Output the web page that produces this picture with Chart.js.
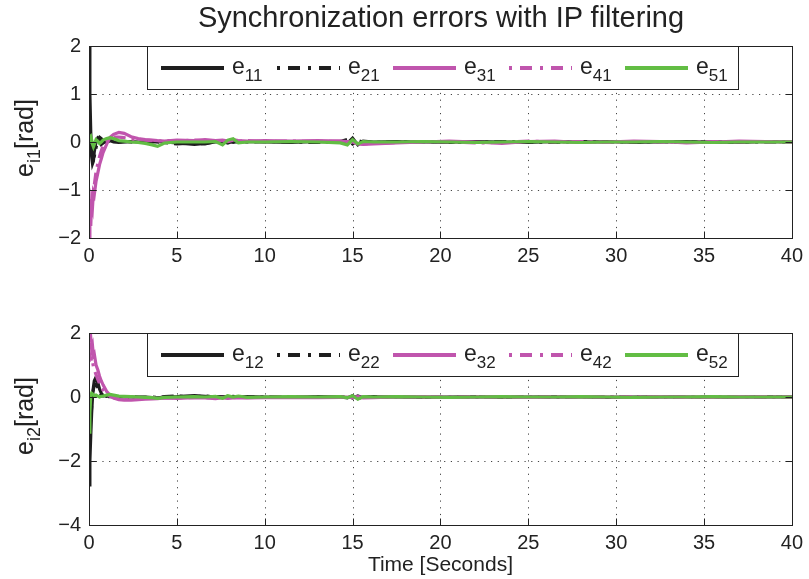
<!DOCTYPE html>
<html>
<head>
<meta charset="utf-8">
<script src="https://cdn.jsdelivr.net/npm/chart.js@4"></script>
<style>
  body { margin: 0; background: #fff; font-family: "Liberation Sans", Arial, sans-serif; color: #222; }
  #wrap { position: relative; width: 809px; height: 579px; overflow: hidden; }
  canvas { position: absolute; left: 0; }
  .title { position: absolute; left: 89px; width: 704px; top: 1px; text-align: center; font-size: 29px; }
  .ylab { position: absolute; width: 200px; height: 30px; line-height: 30px; text-align: center;
          font-size: 25px; transform: rotate(-90deg); }
  .ylab sub { font-size: 18px; vertical-align: -7px; line-height: 0; }
  .legend sub { font-size: 17px; vertical-align: -7px; line-height: 0; }
  .legend { position: absolute; left: 147px; width: 590px; height: 42px; border: 1px solid #222;
            background: #fff; }
  .item { position: absolute; top: -2px; height: 42px; display: flex; align-items: center; font-size: 23px; }
  .item svg { margin-right: 8px; margin-top: 3px; }
</style>
</head>
<body>
<div id="wrap">
  <canvas id="top" width="809" height="300" style="top:0"></canvas>
  <canvas id="bot" width="809" height="289" style="top:290px"></canvas>
  <div class="title">Synchronization errors with IP filtering</div>
  <div class="ylab" style="left:-76px; top:123px">e<sub>i1</sub>[rad]</div>
  <div class="ylab" style="left:-76px; top:401px">e<sub>i2</sub>[rad]</div>
  <div class="legend" id="leg1" style="top:46px"></div>
  <div class="legend" id="leg2" style="top:333px"></div>
</div>
<script>
// time axis (seconds)
const T = [0, 0.05, 0.1, 0.15, 0.2, 0.25, 0.3, 0.4, 0.5, 0.6,
  0.7, 0.8, 1.0, 1.2, 1.4, 1.7, 2.0, 2.4, 2.8, 3.2,
  3.6, 3.9, 4.3, 5, 6, 6.6, 7.2, 7.6, 7.9, 8.2,
  8.5, 9, 10, 11.5, 13, 14.3, 14.7, 15, 15.3, 15.6,
  16.2, 17.5, 19, 20.5, 22, 23.5, 25, 26.5, 28, 29.5,
  31, 32.5, 34, 35.5, 37, 38.5, 40];

// upper plot: e_i1
const e11 = [2.0, 1.0, 0.2, -0.3, -0.45, -0.4, -0.2, 0.0, 0.08, 0.05,
  -0.05, -0.02, 0.05, 0.03, 0.0, -0.01, 0.0, 0.01, 0.0, -0.01,
  0.0, 0.01, 0.0, -0.02, -0.05, -0.03, 0.0, 0.01, -0.02, 0.02,
  0.0, 0.01, 0.0, -0.01, 0.01, 0.0, -0.03, 0.08, -0.06, 0.02,
  0.0, 0.01, 0.0, -0.01, 0.01, 0.0, -0.01, 0.01, 0.0, 0.01,
  -0.01, 0.0, 0.01, 0.0, -0.01, 0.01, 0.0];
const e21 = [0.4, 0.2, 0.05, -0.1, -0.25, -0.33, -0.3, -0.12, 0.05, 0.1,
  0.07, 0.02, -0.02, 0.03, 0.02, 0.0, 0.01, 0.0, -0.01, 0.0,
  0.01, 0.0, -0.01, -0.04, -0.02, -0.04, 0.01, 0.0, 0.02, -0.01,
  0.01, 0.0, 0.01, 0.0, -0.01, 0.01, 0.05, -0.04, 0.03, 0.0,
  -0.01, 0.0, 0.01, 0.0, -0.01, 0.01, 0.0, -0.01, 0.01, 0.0,
  0.0, 0.01, -0.01, 0.0, 0.01, 0.0, 0.0];
const e31 = [-2.0, -1.6, -1.75, -1.25, -1.35, -1.05, -1.1, -0.82, -0.65, -0.47,
  -0.35, -0.22, -0.05, 0.1, 0.16, 0.2, 0.18, 0.11, 0.07, 0.05,
  0.04, 0.03, 0.02, 0.04, 0.03, 0.05, 0.03, 0.04, 0.02, 0.05,
  0.03, 0.02, 0.03, 0.02, 0.03, 0.02, 0.01, 0.0, -0.04, -0.05,
  -0.04, -0.02, 0.0, 0.02, 0.0, -0.03, 0.01, 0.02, -0.01, 0.0,
  0.02, 0.01, -0.02, 0.0, 0.02, 0.01, 0.0];
const e41 = [-1.9, -1.45, -1.5, -1.15, -1.1, -0.95, -0.9, -0.62, -0.45, -0.3,
  -0.18, -0.08, 0.03, 0.07, 0.1, 0.1, 0.09, 0.06, 0.05, 0.04,
  0.03, 0.02, 0.03, 0.02, 0.04, 0.03, 0.02, 0.03, 0.01, 0.04,
  0.02, 0.03, 0.01, 0.02, 0.01, 0.02, 0.0, -0.02, -0.03, -0.04,
  -0.03, -0.01, 0.01, 0.0, -0.02, -0.01, 0.02, 0.0, 0.01, -0.01,
  0.01, 0.0, -0.01, 0.01, 0.0, 0.01, 0.0];
const e51 = [0.0, 0.1, 0.12, 0.05, -0.05, -0.1, -0.05, 0.05, 0.02, -0.03,
  0.0, 0.04, 0.07, 0.09, 0.07, 0.03, 0.02, 0.0, -0.01, -0.03,
  -0.06, -0.09, -0.02, 0.0, 0.0, 0.0, 0.01, -0.06, 0.04, 0.07,
  -0.02, 0.0, 0.0, 0.01, 0.0, -0.02, -0.06, 0.05, -0.04, 0.01,
  0.0, 0.0, 0.01, 0.0, -0.01, 0.0, 0.01, 0.0, -0.01, 0.0,
  0.0, 0.01, 0.0, -0.01, 0.0, 0.0, 0.0];

// lower plot: e_i2
const e12 = [-2.75, -2.0, -1.2, -0.5, 0.0, 0.3, 0.5, 0.62, 0.45, 0.25,
  0.12, 0.05, 0.02, 0.04, 0.02, 0.0, 0.01, 0.0, -0.01, 0.0,
  -0.02, -0.03, 0.0, 0.01, 0.04, 0.02, 0.0, 0.01, -0.01, 0.02,
  0.0, 0.01, 0.0, -0.01, 0.01, 0.0, -0.03, 0.04, -0.05, 0.0,
  0.01, 0.0, -0.01, 0.0, 0.01, -0.01, 0.0, 0.01, 0.0, -0.01,
  0.0, 0.01, 0.0, -0.01, 0.0, 0.01, 0.0];
const e22 = [-1.5, -1.1, -0.7, -0.3, 0.05, 0.25, 0.35, 0.4, 0.3, 0.16,
  0.07, 0.02, 0.0, 0.02, 0.01, 0.0, 0.0, 0.01, 0.0, -0.01,
  0.0, -0.02, 0.01, 0.03, 0.0, 0.03, 0.01, 0.0, 0.02, -0.01,
  0.01, 0.0, 0.01, 0.0, -0.01, 0.01, 0.02, -0.03, 0.03, -0.02,
  0.0, 0.01, 0.0, -0.01, 0.0, 0.01, 0.0, -0.01, 0.01, 0.0,
  0.01, 0.0, -0.01, 0.0, 0.01, 0.0, 0.0];
const e32 = [2.0, 1.7, 1.85, 1.5, 1.6, 1.3, 1.35, 1.0, 0.85, 0.65,
  0.5, 0.38, 0.18, 0.05, -0.03, -0.08, -0.1, -0.1, -0.08, -0.07,
  -0.06, -0.05, -0.03, -0.04, -0.02, -0.03, -0.05, -0.02, -0.04, -0.03,
  -0.02, -0.03, -0.02, -0.01, -0.02, -0.01, 0.0, -0.02, 0.0, -0.03,
  -0.02, 0.0, 0.01, -0.01, 0.0, 0.01, -0.01, 0.0, 0.01, 0.0,
  -0.01, 0.01, 0.0, -0.01, 0.01, 0.0, 0.0];
const e42 = [1.1, 1.3, 1.2, 1.05, 1.1, 0.95, 0.85, 0.7, 0.55, 0.42,
  0.3, 0.22, 0.1, 0.02, -0.02, -0.05, -0.06, -0.05, -0.04, -0.04,
  -0.03, -0.03, -0.02, -0.03, -0.01, -0.02, -0.03, -0.01, -0.02, -0.02,
  -0.01, -0.02, -0.01, 0.0, -0.01, 0.0, 0.01, -0.01, 0.01, -0.02,
  -0.01, 0.01, 0.0, -0.01, 0.01, 0.0, -0.01, 0.01, 0.0, 0.0,
  0.01, 0.0, -0.01, 0.0, 0.0, 0.01, 0.0];
const e52 = [-1.1, -0.5, 0.05, 0.12, 0.1, 0.06, 0.04, 0.06, 0.03, 0.0,
  0.02, 0.03, 0.06, 0.08, 0.06, 0.03, 0.02, 0.01, 0.0, -0.01,
  -0.02, -0.04, -0.01, 0.0, 0.01, 0.0, 0.02, -0.04, 0.04, 0.0,
  0.03, -0.01, 0.0, 0.01, 0.0, 0.01, -0.02, 0.04, -0.07, 0.01,
  0.0, 0.01, 0.0, -0.01, 0.0, 0.01, 0.0, 0.0, 0.01, 0.0,
  -0.01, 0.0, 0.0, 0.01, 0.0, 0.0, 0.0];

const subs1 = ['11', '21', '31', '41', '51'];
const subs2 = ['12', '22', '32', '42', '52'];

const FONT = '"Liberation Sans", Arial, sans-serif';
const styles = [
  { color: '#1e1e1e', dash: [] },
  { color: '#1e1e1e', dash: [12, 6, 3, 6] },
  { color: '#c055ad', dash: [] },
  { color: '#c055ad', dash: [12, 6, 3, 6] },
  { color: '#62bd44', dash: [] }
];

function datasets(series, subs) {
  return series.map((s, i) => ({
    label: 'e' + subs[i],
    data: T.map((t, k) => ({ x: t, y: s[k] })),
    borderColor: styles[i].color,
    borderDash: styles[i].dash,
    borderWidth: 3.2,
    pointRadius: 0,
    tension: 0,
    order: 4 - i
  }));
}

// matlab-like box, dotted grid and inward ticks
const matlabAxes = {
  id: 'matlabAxes',
  beforeDatasetsDraw(chart) {
    const { ctx, chartArea: a, scales: { x, y } } = chart;
    ctx.save();
    ctx.strokeStyle = '#444';
    ctx.lineWidth = 1;
    ctx.setLineDash([1.2, 5.5]);
    x.ticks.forEach(t => {
      const px = Math.round(x.getPixelForValue(t.value)) + 0.5;
      if (px < a.left + 2 || px > a.right - 2) return;
      ctx.beginPath(); ctx.moveTo(px, a.top); ctx.lineTo(px, a.bottom); ctx.stroke();
    });
    y.ticks.forEach(t => {
      const py = Math.round(y.getPixelForValue(t.value)) + 0.5;
      if (py < a.top + 2 || py > a.bottom - 2) return;
      ctx.beginPath(); ctx.moveTo(a.left, py); ctx.lineTo(a.right, py); ctx.stroke();
    });
    ctx.restore();
  },
  afterDraw(chart) {
    const { ctx, chartArea: a, scales: { x, y } } = chart;
    ctx.save();
    ctx.strokeStyle = '#222';
    ctx.lineWidth = 1;
    const L = Math.round(a.left) + 0.5, R = Math.round(a.right) + 0.5;
    const Tp = Math.round(a.top) + 0.5, B = Math.round(a.bottom) + 0.5;
    ctx.strokeRect(L, Tp, R - L, B - Tp);
    ctx.beginPath();
    x.ticks.forEach(t => {
      const px = Math.round(x.getPixelForValue(t.value)) + 0.5;
      ctx.moveTo(px, B); ctx.lineTo(px, B - 7);
      ctx.moveTo(px, Tp); ctx.lineTo(px, Tp + 7);
    });
    y.ticks.forEach(t => {
      const py = Math.round(y.getPixelForValue(t.value)) + 0.5;
      ctx.moveTo(L, py); ctx.lineTo(L + 7, py);
      ctx.moveTo(R, py); ctx.lineTo(R - 7, py);
    });
    ctx.stroke();
    ctx.restore();
  }
};

function makeChart(id, series, subs, ymin, ymax, ystep, padTop, xHeight, withTitle) {
  return new Chart(document.getElementById(id), {
    type: 'line',
    data: { datasets: datasets(series, subs) },
    plugins: [matlabAxes],
    options: {
      responsive: false,
      animation: false,
      events: [],
      layout: { padding: { top: padTop, right: 16, left: 0, bottom: 0 } },
      plugins: { legend: { display: false }, tooltip: { enabled: false } },
      scales: {
        x: {
          type: 'linear', min: 0, max: 40,
          ticks: { stepSize: 5, color: '#222', padding: 6, maxRotation: 0, font: { size: 20, family: FONT } },
          grid: { display: false, drawTicks: false },
          border: { display: false },
          title: { display: withTitle, text: 'Time [Seconds]', color: '#222',
                   font: { size: 21, family: FONT }, padding: { top: 0, bottom: 1 } },
          afterFit: s => { s.height = xHeight; }
        },
        y: {
          min: ymin, max: ymax,
          ticks: { stepSize: ystep, color: '#222', padding: 8, font: { size: 20, family: FONT },
                   callback: v => String(v).replace('-', '\u2212') },
          grid: { display: false, drawTicks: false },
          border: { display: false },
          afterFit: s => { s.width = 89; }
        }
      }
    }
  });
}

makeChart('top', [e11, e21, e31, e41, e51], subs1, -2, 2, 1, 46, 62, false);
makeChart('bot', [e12, e22, e32, e42, e52], subs2, -4, 2, 2, 43, 54, true);

function buildLegend(id, subs) {
  const box = document.getElementById(id);
  subs.forEach((sub, i) => {
    const it = document.createElement('div');
    it.className = 'item';
    it.style.left = (13 + i * 116) + 'px';
    const dash = styles[i].dash.length ? 'stroke-dasharray="3 8 12 8"' : '';
    it.innerHTML = '<svg width="63" height="10"><line x1="0" y1="5" x2="63" y2="5" stroke="' +
      styles[i].color + '" stroke-width="4" ' + dash + '/></svg><span>e<sub>' + sub + '</sub></span>';
    box.appendChild(it);
  });
}
buildLegend('leg1', subs1);
buildLegend('leg2', subs2);
</script>
</body>
</html>
